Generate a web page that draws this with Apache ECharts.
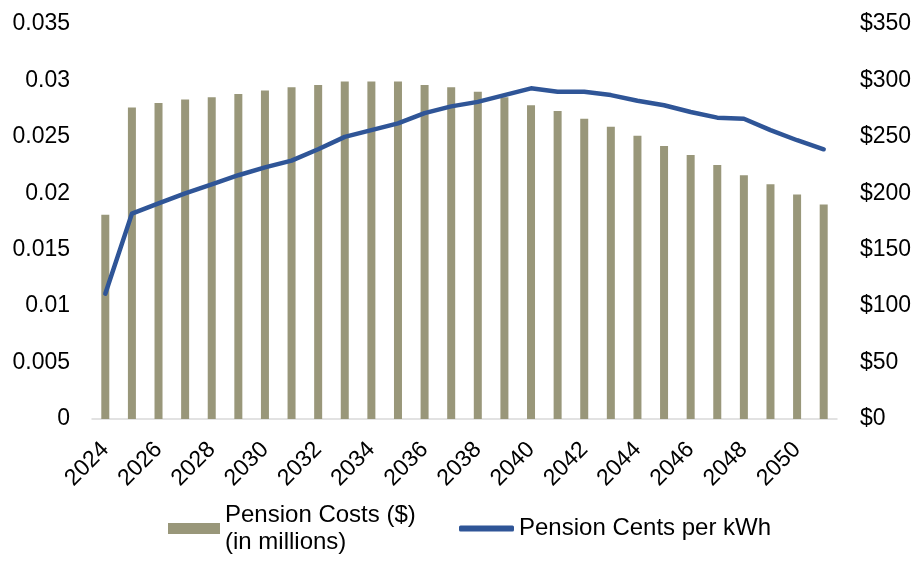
<!DOCTYPE html>
<html>
<head>
<meta charset="utf-8">
<script src="https://cdn.jsdelivr.net/npm/echarts@6/dist/echarts.min.js"></script>
<style>
  html, body { margin: 0; padding: 0; background: #fff; }
  #chart { width: 916px; height: 569px; }
</style>
</head>
<body>
<div id="chart"></div>
<script>
// Years on the category axis
const years = ['2024','2025','2026','2027','2028','2029','2030','2031','2032','2033',
  '2034','2035','2036','2037','2038','2039','2040','2041','2042','2043',
  '2044','2045','2046','2047','2048','2049','2050','2051'];

// Annual pension costs, $ millions (right axis)
const pensionCosts = [181, 276, 280, 283, 285, 288, 291, 294, 296, 299,
  299, 299, 296, 294, 290, 285, 278, 273, 266, 259,
  251, 242, 234, 225, 216, 208, 199, 190];

// Pension cost per kWh (left axis)
const centsPerKwh = [0.0111, 0.0182, 0.0191, 0.0200, 0.0208, 0.0216, 0.0223, 0.0229, 0.0239, 0.0250,
  0.0256, 0.0262, 0.0271, 0.0277, 0.0281, 0.0287, 0.0293, 0.0290, 0.0290, 0.0287,
  0.0282, 0.0278, 0.0272, 0.0267, 0.0266, 0.0256, 0.0247, 0.0239];

// Axis tick values
const leftTicks = { min: 0, max: 0.035, interval: 0.005 };
const rightTicks = { min: 0, max: 350, interval: 50 };

const FONT = '"Liberation Sans", Arial, sans-serif';
const BAR_COLOR = '#99977a';
const LINE_COLOR = '#2f5597';
const LEGEND_LINE_HEIGHT = 27;

const chart = echarts.init(document.getElementById('chart'), null, { renderer: 'canvas' });

chart.setOption({
  animation: false,
  textStyle: { fontFamily: FONT },
  grid: { left: 92, right: 79, top: 24, bottom: 150, containLabel: false },
  xAxis: {
    type: 'category',
    data: years,
    boundaryGap: true,
    axisLine: { lineStyle: { color: '#d9d9d9', width: 1.5 } },
    axisTick: { show: false },
    axisLabel: {
      interval: 1,
      rotate: 45,
      margin: 27,
      color: '#000',
      fontSize: 23,
      fontFamily: FONT
    }
  },
  yAxis: [
    {
      type: 'value',
      position: 'left',
      min: leftTicks.min,
      max: leftTicks.max,
      interval: leftTicks.interval,
      splitLine: { show: false },
      axisLine: { show: false },
      axisTick: { show: false },
      axisLabel: {
        margin: 22,
        color: '#000',
        fontSize: 23,
        fontFamily: FONT,
        formatter: v => String(+v.toFixed(3))
      }
    },
    {
      type: 'value',
      position: 'right',
      min: rightTicks.min,
      max: rightTicks.max,
      interval: rightTicks.interval,
      splitLine: { show: false },
      axisLine: { show: false },
      axisTick: { show: false },
      axisLabel: {
        margin: 23,
        color: '#000',
        fontSize: 23,
        fontFamily: FONT,
        formatter: v => '$' + Math.round(v)
      }
    }
  ],
  legend: [
    {
      // two-line label; top padding keeps the first line level with the swatch
      left: 168,
      top: 528.5 - (3 * LEGEND_LINE_HEIGHT) / 2,
      padding: 0,
      itemWidth: 52,
      itemHeight: 11,
      icon: 'rect',
      data: [{
        name: 'Pension Costs ($)',
        textStyle: { padding: [LEGEND_LINE_HEIGHT, 0, 0, 0] }
      }],
      formatter: name => name + '\n(in millions)',
      textStyle: { color: '#000', fontSize: 24, lineHeight: LEGEND_LINE_HEIGHT, fontFamily: FONT },
      selectedMode: false
    },
    {
      left: 459,
      top: 528.5 - LEGEND_LINE_HEIGHT / 2,
      padding: 0,
      itemWidth: 55,
      itemHeight: 6,
      icon: 'roundRect',
      data: ['Pension Cents per kWh'],
      textStyle: { color: '#000', fontSize: 24, lineHeight: LEGEND_LINE_HEIGHT, fontFamily: FONT },
      selectedMode: false
    }
  ],
  series: [
    {
      name: 'Pension Costs ($)',
      type: 'bar',
      yAxisIndex: 1,
      data: pensionCosts,
      barWidth: 8,
      itemStyle: { color: BAR_COLOR }
    },
    {
      name: 'Pension Cents per kWh',
      type: 'line',
      yAxisIndex: 0,
      data: centsPerKwh,
      symbol: 'none',
      lineStyle: { color: LINE_COLOR, width: 4.5, cap: 'round', join: 'round' },
      itemStyle: { color: LINE_COLOR }
    }
  ]
});
</script>
</body>
</html>
